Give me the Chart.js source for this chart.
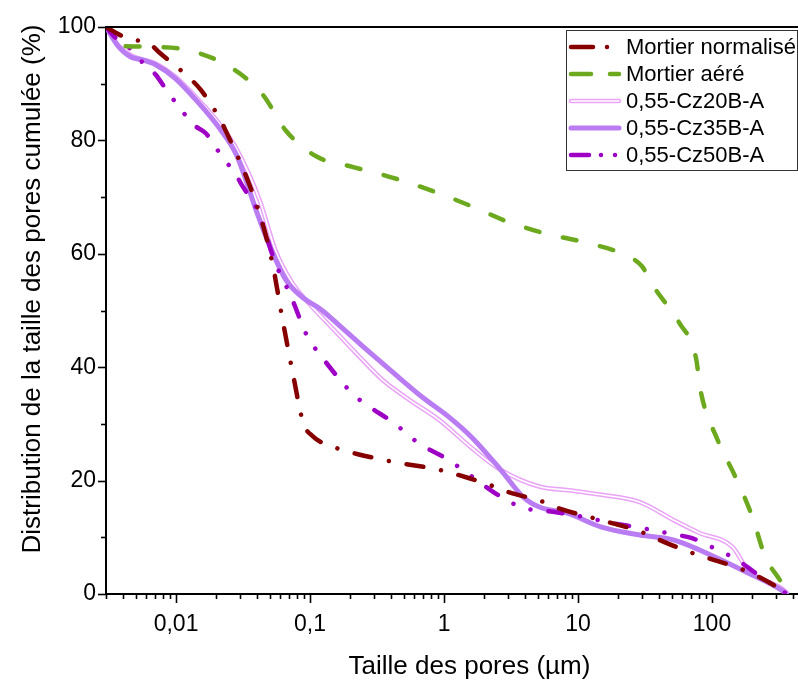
<!DOCTYPE html>
<html>
<head>
<meta charset="utf-8">
<script src="https://cdn.jsdelivr.net/npm/chart.js@4.4.1/dist/chart.umd.min.js"></script>
<style>
  html, body { margin: 0; padding: 0; background: #fff; overflow: hidden; }
  #wrap { position: absolute; left: 0; top: 0; width: 850px; height: 682px; }
</style>
</head>
<body>
<div id="wrap"><canvas id="chart" width="850" height="682"></canvas></div>
<script>
// pore size (µm) / cumulative distribution (%)
const poreMN = [0.003, 0.00355, 0.0043, 0.0064, 0.0075, 0.0095, 0.0126, 0.0152, 0.021, 0.0237, 0.0346, 0.045, 0.053, 0.062, 0.074, 0.089, 0.104, 0.174, 0.224, 0.42, 0.92, 1.5, 2.4, 3.0, 5.6, 7.0, 13, 30, 39, 68, 89, 157, 208, 330, 360];
const cumMN = [100, 99, 98, 97, 95.5, 93.5, 91, 89, 84, 81.5, 72.7, 64.7, 57.7, 48.7, 39.2, 30.2, 27.9, 25.4, 24.7, 23.3, 21.9, 20.5, 18.9, 18, 16.2, 15.2, 13.4, 10.9, 9.7, 7.4, 6.5, 4.6, 3.4, 0.7, 0];

const poreMA = [0.0042, 0.0065, 0.0118, 0.025, 0.0446, 0.0656, 0.111, 0.21, 0.417, 0.817, 1.6, 3.03, 5.9, 11.8, 23.5, 30, 37, 57, 76, 82, 110, 150, 200, 250, 310, 360];
const cumMA = [96.6, 96.5, 96, 93, 88, 81.8, 77.2, 75.3, 73.4, 71.1, 68.4, 65.6, 63.5, 61.9, 59.6, 57.8, 54.1, 47.8, 41.6, 36, 27.2, 20.6, 13.6, 6.5, 3, 0.8];

const poreCz20 = [0.003, 0.0037, 0.0046, 0.0071, 0.0098, 0.0145, 0.0213, 0.0283, 0.042, 0.055, 0.074, 0.104, 0.145, 0.22, 0.35, 0.555, 0.92, 1.6, 2.6, 5.2, 8.6, 15, 29, 52, 80, 142, 186, 330, 360];
const cumCz20 = [100, 96.8, 95, 93.5, 91.3, 87.3, 82.8, 78.5, 69.5, 60.7, 54.8, 50.6, 47, 42.5, 37.7, 34.2, 30.7, 25.8, 22, 18.9, 18.3, 17.5, 16.2, 13, 10.8, 8.3, 4.2, 1, 0.3];

const poreCz35 = [0.003, 0.0037, 0.0046, 0.0056, 0.0071, 0.0098, 0.0145, 0.0213, 0.0283, 0.04, 0.049, 0.066, 0.087, 0.122, 0.17, 0.25, 0.42, 0.69, 1.09, 1.6, 2.65, 3.9, 5.2, 8.2, 15, 29, 52, 80, 186, 330, 360];
const cumCz35 = [100, 96.6, 94.7, 94.2, 93.3, 91, 86.8, 82, 77.4, 67.4, 61.9, 55.4, 52.4, 50.1, 47.1, 43.6, 39, 34.7, 31.2, 27.7, 21.9, 17.1, 15.3, 14.3, 11.8, 10.4, 9.5, 7.8, 3.7, 0.7, 0];

const poreCz50 = [0.003, 0.0035, 0.004, 0.0048, 0.0057, 0.0071, 0.0083, 0.0117, 0.0136, 0.0166, 0.023, 0.027, 0.031, 0.041, 0.055, 0.067, 0.075, 0.092, 0.105, 0.127, 0.18, 0.217, 0.27, 0.42, 0.52, 0.645, 1.02, 1.29, 2.4, 3.0, 3.9, 6.5, 8.4, 11, 18, 24, 32, 55, 70, 93, 142, 183, 232, 330, 360];
const cumCz50 = [100, 98.2, 97.3, 95.6, 93.6, 91.5, 89.2, 84.5, 82.7, 81.3, 76.5, 74.6, 72.1, 67.4, 58.4, 54.1, 51.5, 46.2, 43.9, 41.3, 36.9, 34.9, 33.2, 30.2, 28.4, 26.6, 24, 22.4, 17.8, 16.4, 15.2, 14.5, 14.1, 13.6, 12.5, 12, 11.5, 10.4, 9.9, 8.6, 6.5, 4.8, 3, 0.7, 0];

const xTickVals = [0.01, 0.1, 1, 10, 100];
const xTickLabels = ['0,01', '0,1', '1', '10', '100'];
const yTickLabels = [0, 20, 40, 60, 80, 100];

const FONT = "'Liberation Sans', Arial, sans-serif";

function pts(xs, ys) {
  return xs.map((x, i) => ({ x: x, y: ys[i] }));
}

function line(label, xs, ys, color, width, dash) {
  return {
    label: label,
    data: pts(xs, ys),
    borderColor: color,
    borderWidth: width,
    borderDash: dash,
    borderCapStyle: 'round',
    borderJoinStyle: 'round',
    pointRadius: 0,
    fill: false,
    cubicInterpolationMode: 'monotone'
  };
}

// dataset 0 is drawn last (on top)
const datasets = [
  line('Mortier normalisé', poreMN, cumMN, '#870000', 4.5, [17, 18, 0.01, 18]),
  line('Mortier aéré', poreMA, cumMA, '#6ca91f', 4.5, [14, 24]),
  line('0,55-Cz50B-A', poreCz50, cumCz50, '#9f00c5', 4.5, [14, 18, 0.01, 18, 0.01, 18]),
  line('0,55-Cz35B-A', poreCz35, cumCz35, '#b97cf2', 5, []),
  line('_inner', poreCz20, cumCz20, '#ffffff', 1.6, []),
  line('0,55-Cz20B-A', poreCz20, cumCz20, '#eaa3f7', 4.6, [])
];

const legendOrder = ['Mortier normalisé', 'Mortier aéré', '0,55-Cz20B-A', '0,55-Cz35B-A', '0,55-Cz50B-A'];

const framePlugin = {
  id: 'frame',
  afterDraw(chart) {
    const ctx = chart.ctx;
    const a = chart.chartArea;
    const xs = chart.scales.x;
    const ys = chart.scales.y;
    ctx.save();
    ctx.strokeStyle = '#000';
    // top border
    ctx.lineWidth = 2;
    ctx.beginPath();
    ctx.moveTo(a.left - 1, a.top);
    ctx.lineTo(a.right, a.top);
    ctx.stroke();
    // x ticks (outside)
    ctx.lineWidth = 1.6;
    xs.ticks.forEach(t => {
      const px = Math.round(xs.getPixelForValue(t.value)) + 0.5;
      const major = xTickVals.includes(t.value);
      ctx.beginPath();
      ctx.moveTo(px, a.bottom);
      ctx.lineTo(px, a.bottom + (major ? 9 : 5));
      ctx.stroke();
    });
    // y ticks (outside)
    ys.ticks.forEach(t => {
      const py = Math.round(ys.getPixelForValue(t.value)) + 0.5;
      const major = yTickLabels.includes(t.value);
      ctx.beginPath();
      ctx.moveTo(a.left, py);
      ctx.lineTo(a.left - (major ? 8 : 5), py);
      ctx.stroke();
    });
    // y axis title
    ctx.fillStyle = '#000';
    ctx.font = '26px ' + FONT;
    ctx.textAlign = 'center';
    ctx.textBaseline = 'middle';
    ctx.translate(33, 289);
    ctx.rotate(-Math.PI / 2);
    ctx.fillText('Distribution de la taille des pores cumulée (%)', 0, 0);
    ctx.restore();

    // legend
    ctx.save();
    const bx = 566, by = 30, bw = 231, bh = 140;
    ctx.fillStyle = '#fff';
    ctx.fillRect(bx, by, bw, bh);
    ctx.strokeStyle = '#333';
    ctx.lineWidth = 1;
    ctx.strokeRect(bx + 0.5, by + 0.5, bw, bh);
    ctx.font = '22px ' + FONT;
    ctx.textBaseline = 'middle';
    ctx.textAlign = 'left';
    legendOrder.forEach((name, i) => {
      const ds = chart.data.datasets.find(d => d.label === name);
      const y = 47 + i * 27;
      ctx.strokeStyle = ds.borderColor;
      ctx.lineWidth = ds.borderWidth;
      ctx.lineCap = 'round';
      ctx.setLineDash(name === 'Mortier aéré' ? [20, 19] : name === 'Mortier normalisé' ? [22, 14, 0.01, 14] : name === '0,55-Cz50B-A' ? [18, 12, 0.01, 14, 0.01, 20] : []);
      ctx.beginPath();
      ctx.moveTo(571, y);
      ctx.lineTo(619, y);
      ctx.stroke();
      if (name === '0,55-Cz20B-A') {
        ctx.strokeStyle = '#fff';
        ctx.lineWidth = 1.6;
        ctx.beginPath();
        ctx.moveTo(571, y);
        ctx.lineTo(619, y);
        ctx.stroke();
      }
      ctx.setLineDash([]);
      ctx.fillStyle = '#000';
      ctx.fillText(name, 626, y + 1);
    });
    ctx.restore();
  }
};

new Chart(document.getElementById('chart'), {
  type: 'line',
  data: { datasets: datasets },
  options: {
    responsive: false,
    animation: false,
    layout: { padding: { top: 27, left: 17, right: 2, bottom: 0 } },
    plugins: { legend: { display: false }, tooltip: { enabled: false } },
    scales: {
      x: {
        type: 'logarithmic',
        min: 0.003,
        max: 800,
        afterBuildTicks(scale) {
          const t = [];
          for (let k = -3; k <= 2; k++) {
            for (let m = 1; m <= 9; m++) {
              const v = k < 0 ? m / Math.pow(10, -k) : m * Math.pow(10, k);
              if (v >= 0.003 && v <= 800) t.push({ value: v });
            }
          }
          scale.ticks = t;
        },
        afterFit(scale) { scale.height = 88; },
        grid: { display: false, drawTicks: false },
        border: { display: true, color: '#000', width: 2 },
        ticks: {
          autoSkip: false,
          maxRotation: 0,
          padding: 17,
          color: '#000',
          font: { family: FONT, size: 23 },
          callback(value) {
            const i = xTickVals.indexOf(value);
            return i >= 0 ? xTickLabels[i] : '';
          }
        },
        title: {
          display: true,
          text: 'Taille des pores (µm)',
          color: '#000',
          font: { family: FONT, size: 26 },
          padding: 0
        }
      },
      y: {
        min: 0,
        max: 100,
        afterFit(scale) { scale.width = 89; },
        grid: { display: false, drawTicks: false },
        border: { display: true, color: '#000', width: 2 },
        ticks: {
          stepSize: 10,
          padding: 10,
          color: '#000',
          font: { family: FONT, size: 23 },
          callback(value) {
            return yTickLabels.includes(value) ? String(value) : '';
          }
        }
      }
    }
  },
  plugins: [framePlugin]
});
</script>
</body>
</html>
